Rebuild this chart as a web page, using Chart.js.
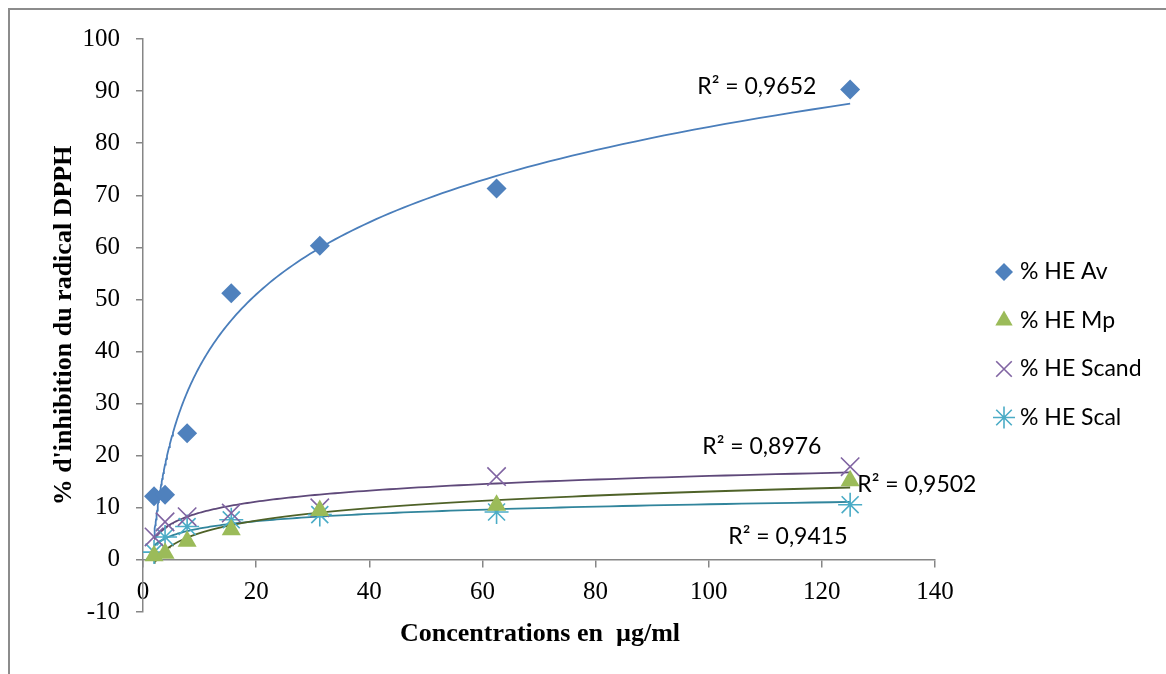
<!DOCTYPE html>
<html>
<head>
<meta charset="utf-8">
<script src="https://cdn.jsdelivr.net/npm/chart.js@4.4.1/dist/chart.umd.min.js"></script>
<style>
  body { margin: 0; background: #fff; }
  canvas { display: block; }
</style>
</head>
<body>
<canvas id="dpphChart" width="1166" height="674"></canvas>
<script>
// concentrations (µg/ml) and % inhibition per essential oil
const concentrations = [1.95, 3.9, 7.8, 15.6, 31.25, 62.5, 125];
const heAv    = [12.2, 12.5, 24.3, 51.2, 60.3, 71.3, 90.3];
const heMp    = [0.8, 1.3, 3.6, 5.8, 9.5, 10.5, 15.2];
const heScand = [4.4, 7.3, 8.3, 9.0, 10.0, 16.0, 17.9];
const heScal  = [1.5, 4.4, 6.4, 7.7, 8.7, 9.2, 10.6];

const seriesNames = ["% HE Av", "% HE Mp", "% HE Scand", "% HE Scal"];
const r2Labels = ["R² = 0,9652", "R² = 0,9502", "R² = 0,8976", "R² = 0,9415"];
// where each R² label sits, in data units (x, y)
const r2Anchors = [[108.5, 90.8], [136.8, 14.4], [109.4, 21.7], [114, 4.4]];

const markerColors = ["#4f81bd", "#9bbb59", "#8064a2", "#4bacc6"];
const trendColors = ["#4a7ebb", "#4f6228", "#5f497a", "#31859c"];
const markerStyles = ["rectRot", "triangle", "crossRot", "star"];
const markerSizes = [10, 11, 13, 12];
const legendSizes = [9, 10, 11, 11];

// logarithmic least-squares trendline, like the spreadsheet one
function logTrend(xs, ys) {
    const lx = xs.map(Math.log);
    const n = xs.length;
    const mx = lx.reduce((s, v) => s + v, 0) / n;
    const my = ys.reduce((s, v) => s + v, 0) / n;
    let sxy = 0, sxx = 0;
    for (let i = 0; i < n; i++) {
        sxy += (lx[i] - mx) * (ys[i] - my);
        sxx += (lx[i] - mx) * (lx[i] - mx);
    }
    const a = sxy / sxx, b = my - a * mx;
    const x0 = Math.min(...xs), x1 = Math.max(...xs);
    const pts = [];
    for (let i = 0; i <= 150; i++) {
        const x = x0 * Math.pow(x1 / x0, i / 150);
        pts.push({ x: x, y: a * Math.log(x) + b });
    }
    return pts;
}

const allSeries = [heAv, heMp, heScand, heScal];
const datasets = [];
allSeries.forEach((vals, i) => {
    datasets.push({
        label: seriesNames[i] + " trend",
        type: "line",
        data: logTrend(concentrations, vals),
        borderColor: trendColors[i],
        borderWidth: 1.8,
        pointRadius: 0,
        fill: false,
        order: 10
    });
});
allSeries.forEach((vals, i) => {
    datasets.push({
        label: seriesNames[i],
        type: "scatter",
        data: concentrations.map((c, k) => ({ x: c, y: vals[k] })),
        pointStyle: markerStyles[i],
        pointRadius: markerSizes[i],
        pointHoverRadius: markerSizes[i],
        backgroundColor: markerColors[i],
        borderColor: markerColors[i],
        pointBorderWidth: (i >= 2) ? 1.6 : 0,
        order: 1
    });
});

const extras = {
    id: "extras",
    afterDraw(chart) {
        const ctx = chart.ctx;
        const ca = chart.chartArea;
        const xs = chart.scales.x, ys = chart.scales.y;
        ctx.save();
        // outer frame (only top and left visible)
        ctx.strokeStyle = "#8c8c8c";
        ctx.lineWidth = 2;
        ctx.beginPath();
        ctx.moveTo(9, 674);
        ctx.lineTo(9, 9);
        ctx.lineTo(1166, 9);
        ctx.stroke();

        // axis titles
        ctx.fillStyle = "#000";
        ctx.font = "bold 26px 'Liberation Serif'";
        ctx.textAlign = "center";
        ctx.textBaseline = "middle";
        ctx.fillText("Concentrations en  µg/ml", 540, 634);
        ctx.save();
        ctx.translate(64, (ca.top + ca.bottom) / 2);
        ctx.rotate(-Math.PI / 2);
        ctx.fillText("% d'inhibition du radical DPPH", 0, 0);
        ctx.restore();

        // R² labels
        ctx.font = "23px Lato";
        r2Labels.forEach((t, i) => {
            const px = xs.getPixelForValue(r2Anchors[i][0]);
            const py = ys.getPixelForValue(r2Anchors[i][1]);
            ctx.fillText(t, px, py);
        });

        // legend
        ctx.textAlign = "left";
        seriesNames.forEach((name, i) => {
            const ly = 272 + i * 48.5;
            ctx.fillStyle = markerColors[i];
            ctx.strokeStyle = markerColors[i];
            ctx.lineWidth = 1.6;
            Chart.helpers.drawPoint(ctx, {
                pointStyle: markerStyles[i],
                radius: legendSizes[i],
                borderWidth: i >= 2 ? 1.6 : 0
            }, 1004, ly);
            ctx.fillStyle = "#000";
            ctx.fillText(name, 1020, ly);
        });
        ctx.restore();
    }
};

const ctxDpph = document.getElementById("dpphChart").getContext("2d");

new Chart(ctxDpph, {
    type: "scatter",
    data: { datasets: datasets },
    plugins: [extras],
    options: {
        responsive: false,
        animation: false,
        layout: { padding: { left: 63, top: 39, right: 231, bottom: 62 } },
        plugins: {
            legend: { display: false },
            tooltip: { enabled: false }
        },
        scales: {
            x: {
                type: "linear",
                position: { y: 0 },
                min: 0,
                max: 140,
                ticks: {
                    stepSize: 20,
                    color: "#000",
                    padding: 11,
                    font: { family: "'Liberation Serif'", size: 25 }
                },
                grid: { drawOnChartArea: false, tickLength: 7, color: "#868686", lineWidth: 1.5 },
                border: { color: "#868686", width: 1.5 }
            },
            y: {
                type: "linear",
                min: -10,
                max: 100,
                ticks: {
                    stepSize: 10,
                    color: "#000",
                    padding: 16,
                    font: { family: "'Liberation Serif'", size: 25 }
                },
                grid: { drawOnChartArea: false, tickLength: 7, color: "#868686", lineWidth: 1.5 },
                border: { color: "#868686", width: 1.5 },
                afterFit(scale) { scale.width = 80; }
            }
        }
    }
});
</script>
</body>
</html>
